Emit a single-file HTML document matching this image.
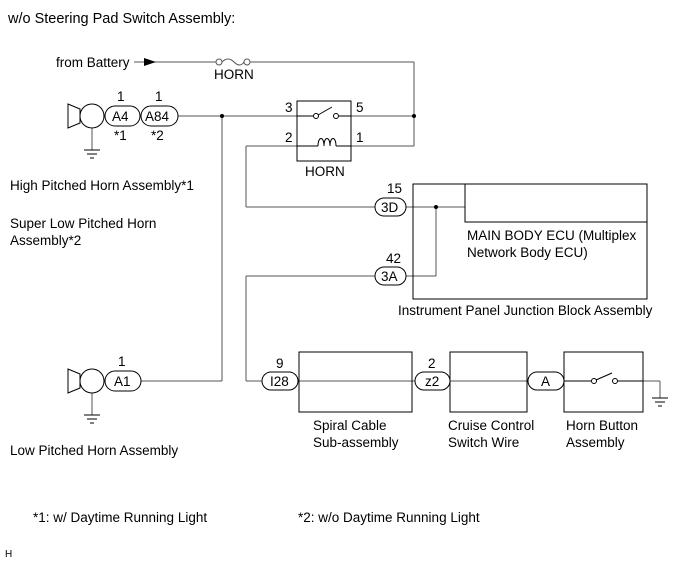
<!DOCTYPE html>
<html><head><style>body{margin:0;background:#fff}svg{display:block}text{font-family:"Liberation Sans",sans-serif;font-size:13.5px;fill:#000}</style></head><body>
<svg width="691" height="564" viewBox="0 0 691 564" xmlns="http://www.w3.org/2000/svg">
<g stroke="#555" stroke-width="1" fill="none">
<line x1="134" y1="62" x2="216" y2="62"/><line x1="250" y1="62" x2="414" y2="62"/><line x1="414" y1="62" x2="414" y2="146"/>
<circle cx="219" cy="62" r="3"/><circle cx="247" cy="62" r="3"/><path d="M222 62 q6 -6 12 0 q6 6 10 0"/>
<line x1="178" y1="116" x2="297" y2="116"/><line x1="351" y1="116" x2="414" y2="116"/>
<line x1="222" y1="116" x2="222" y2="381"/><line x1="141" y1="381" x2="222" y2="381"/>
<line x1="246" y1="146" x2="297" y2="146"/><line x1="351" y1="146" x2="414" y2="146"/>
<line x1="246" y1="146" x2="246" y2="207"/><line x1="246" y1="207" x2="375" y2="207"/>
<line x1="406" y1="207" x2="465" y2="207"/><line x1="436" y1="207" x2="436" y2="276"/><line x1="406" y1="276" x2="436" y2="276"/>
<line x1="246" y1="276" x2="375" y2="276"/><line x1="246" y1="276" x2="246" y2="381"/><line x1="246" y1="381" x2="262" y2="381"/>
<line x1="298" y1="381" x2="415" y2="381"/><line x1="450" y1="381" x2="528" y2="381"/><line x1="564" y1="381" x2="590" y2="381"/><line x1="620" y1="381" x2="660" y2="381"/><line x1="660" y1="381" x2="660" y2="398"/>
<line x1="92" y1="128" x2="92" y2="150"/><line x1="92" y1="393" x2="92" y2="415"/>
</g>
<g stroke="#000" stroke-width="1" fill="none">
<line x1="84" y1="150" x2="100" y2="150"/><line x1="87" y1="154" x2="97" y2="154"/><line x1="90" y1="158" x2="94" y2="158"/>
<line x1="84" y1="415" x2="100" y2="415"/><line x1="87" y1="419" x2="97" y2="419"/><line x1="90" y1="423" x2="94" y2="423"/>
<line x1="652" y1="398" x2="668" y2="398"/><line x1="655" y1="402" x2="665" y2="402"/><line x1="658" y1="406" x2="662" y2="406"/>
<path d="M80 109 L68 104 L68 128 L80 123 Z"/><circle cx="92" cy="116" r="12" fill="#fff"/>
<path d="M80 374 L68 369 L68 393 L80 388 Z"/><circle cx="92" cy="381" r="12" fill="#fff"/>
<rect x="105" y="106" width="35" height="20" rx="10"/><rect x="141" y="106" width="37" height="20" rx="10"/>
<rect x="105" y="371" width="36" height="20" rx="10"/>
<rect x="297" y="101" width="54" height="60"/>
<line x1="297" y1="116" x2="313" y2="116"/><circle cx="316" cy="116" r="2.5"/><line x1="318" y1="115" x2="332" y2="107"/><circle cx="336" cy="116" r="2.5"/><line x1="339" y1="116" x2="351" y2="116"/>
<line x1="297" y1="146" x2="318" y2="146"/><path d="M318 146 c0 -10 6 -10 6 0 c0 -10 6 -10 6 0 c0 -10 6 -10 6 0"/><line x1="336" y1="146" x2="351" y2="146"/>
<rect x="413" y="184" width="234" height="115"/><rect x="465" y="184" width="182" height="38"/>
<rect x="375" y="198" width="31" height="18" rx="9"/><rect x="375" y="267" width="31" height="18" rx="9"/>
<rect x="299" y="352" width="113" height="60"/><rect x="450" y="352" width="77" height="60"/><rect x="564" y="352" width="79" height="60"/>
<rect x="262" y="372" width="36" height="18" rx="9"/><rect x="415" y="372" width="35" height="18" rx="9"/><rect x="528" y="372" width="36" height="18" rx="9"/>
<line x1="564" y1="381" x2="591" y2="381"/><circle cx="594" cy="381" r="2.5"/><line x1="596" y1="380" x2="612" y2="373"/><circle cx="615" cy="381" r="2.5"/><line x1="618" y1="381" x2="643" y2="381"/>
</g>
<path d="M144 58 L156 62 L144 66 Z" fill="#000"/>
<circle cx="222" cy="116" r="2" fill="#000"/><circle cx="414" cy="116" r="2" fill="#000"/><circle cx="436" cy="207" r="2" fill="#000"/>
<text x="8" y="23" style="font-size:14.5px">w/o Steering Pad Switch Assembly:</text>
<text x="56" y="67">from Battery</text>
<text x="214" y="79">HORN</text>
<text x="117" y="101">1</text><text x="155" y="101">1</text>
<text x="112" y="121">A4</text><text x="145" y="121">A84</text>
<text x="114" y="140">*1</text><text x="151" y="140">*2</text>
<text x="285" y="112">3</text><text x="356" y="112">5</text><text x="285" y="142">2</text><text x="356" y="142">1</text>
<text x="305" y="176">HORN</text>
<text x="10" y="190">High Pitched Horn Assembly*1</text>
<text x="10" y="228">Super Low Pitched Horn</text><text x="10" y="245">Assembly*2</text>
<text x="387" y="193">15</text><text x="381" y="212">3D</text>
<text x="386" y="263">42</text><text x="381" y="281">3A</text>
<text x="467" y="240">MAIN BODY ECU (Multiplex</text><text x="467" y="257">Network Body ECU)</text>
<text x="398" y="315">Instrument Panel Junction Block Assembly</text>
<text x="118" y="366">1</text><text x="114" y="386">A1</text>
<text x="276" y="368">9</text><text x="270" y="386">I28</text>
<text x="428" y="368">2</text><text x="425" y="386">z2</text><text x="541" y="386">A</text>
<text x="313" y="430">Spiral Cable</text><text x="313" y="447">Sub-assembly</text>
<text x="448" y="430">Cruise Control</text><text x="448" y="447">Switch Wire</text>
<text x="566" y="430">Horn Button</text><text x="566" y="447">Assembly</text>
<text x="10" y="455">Low Pitched Horn Assembly</text>
<text x="33" y="522">*1: w/ Daytime Running Light</text>
<text x="298" y="522">*2: w/o Daytime Running Light</text>
<text x="5" y="557" style="font-size:10px">H</text>
</svg>
</body></html>
